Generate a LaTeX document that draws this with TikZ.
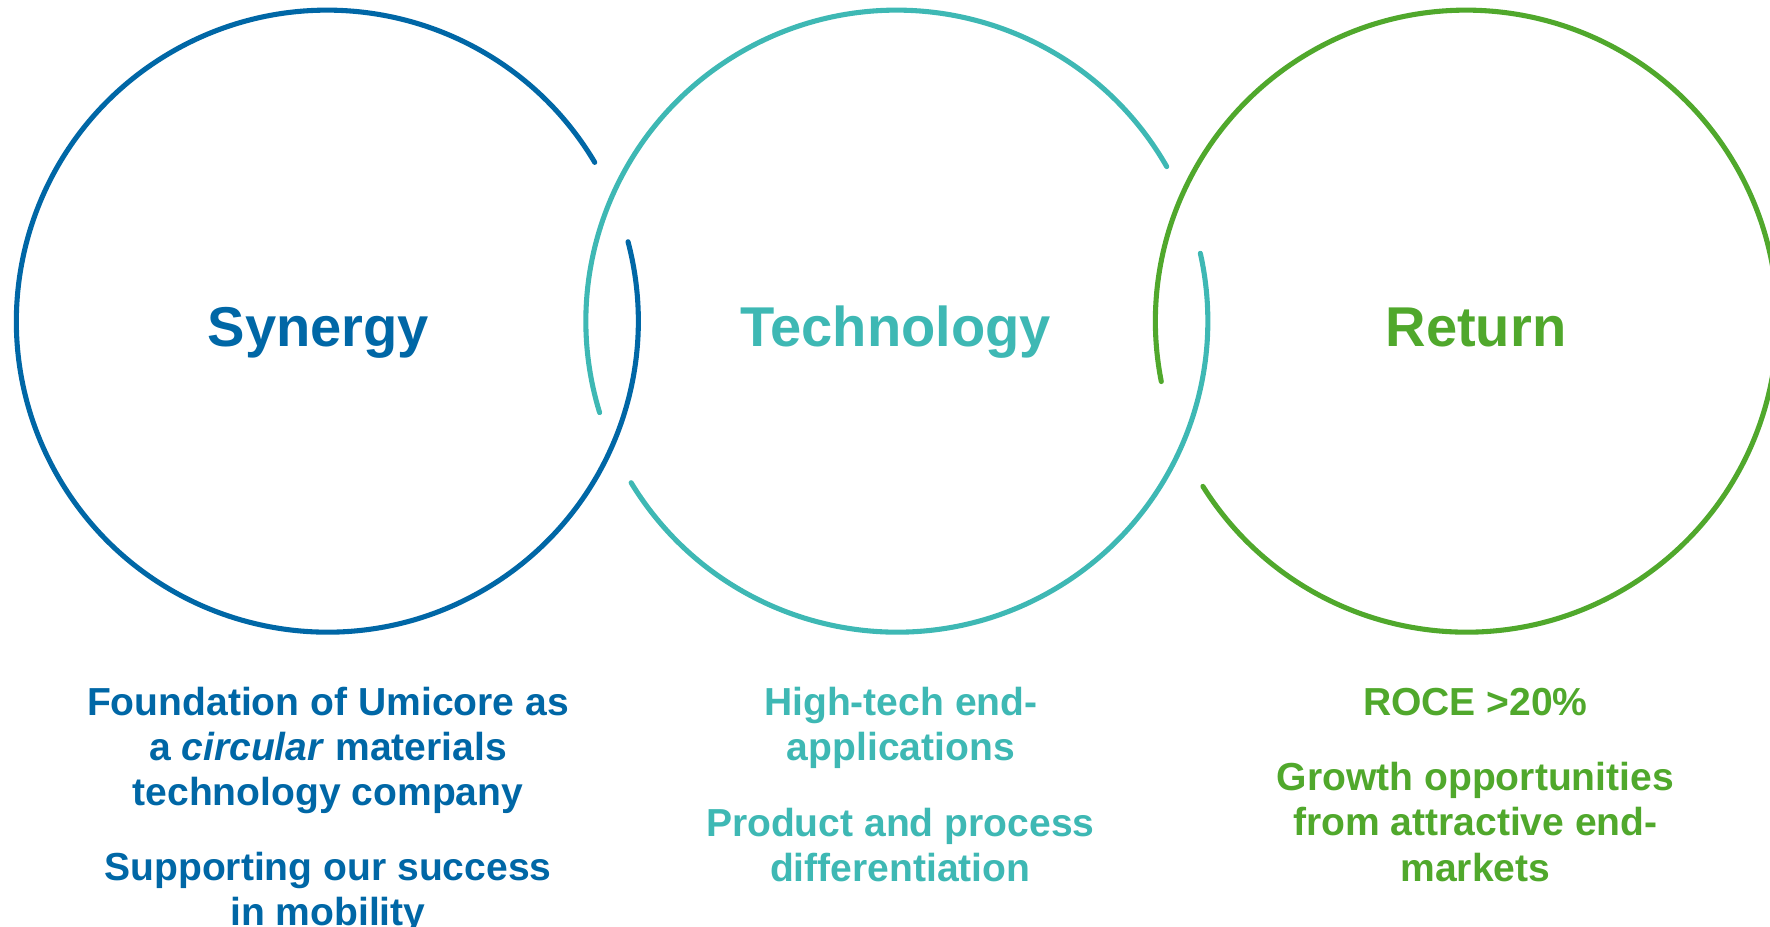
\documentclass[tikz,border=0pt]{standalone}
\usepackage{fontspec}
\setmainfont{Liberation Sans}
\usepackage{tikz}
\usetikzlibrary{arrows,backgrounds}
\definecolor{umiblue}{RGB}{0,103,166}
\definecolor{umiteal}{RGB}{62,184,180}
\definecolor{umigreen}{RGB}{80,168,44}

\begin{document}
\begin{tikzpicture}[x=1pt,y=1pt,line cap=round,line width=4.5pt,
        title/.style={font=\fontsize{49.7}{60}\selectfont\bfseries,anchor=base},
        blurb/.style={font=\fontsize{34.6}{40}\selectfont\bfseries,align=center,anchor=base}]
         \useasboundingbox (0,0) rectangle (1568,-821.2);
         \coordinate (syn) at (290,-284.5);
         \coordinate (tec) at (794.5,-284.5);
         \coordinate (ret) at (1299,-284.5);
         \draw[umiblue] (syn) ++(30.7:275.5) arc[start angle=30.7,end angle=374.8,radius=275.5];
         \draw[umiteal] (tec) ++(29.8:275.5) arc[start angle=29.8,end angle=197.1,radius=275.5];
         \draw[umiteal] (tec) ++(211.3:275.5) arc[start angle=211.3,end angle=372.6,radius=275.5];
         \draw[umigreen] (ret) ++(212.1:275.5) arc[start angle=212.1,end angle=551.2,radius=275.5];
         \node[title,umiblue] (synlabel) at (282,-307) {Synergy};
         \node[title,umiteal] (teclabel) at (793.5,-307) {Technology};
         \node[title,umigreen] (retlabel) at (1307.5,-307) {Return};
         \node[blurb,umiblue] (synfound) at (290.5,-714) {Foundation of Umicore as\\a \textit{circular} materials\\technology company};
         \node[blurb,umiblue] (synmob) at (290.5,-820) {Supporting our success\\in mobility};
         \node[blurb,umiteal] (tecapp) at (798,-674) {High-tech end-\\applications};
         \node[blurb,umiteal] (tecdiff) at (797.5,-781) {Product and process\\differentiation};
         \node[blurb,umigreen] (retroce) at (1307,-634) {ROCE >20\%};
         \node[blurb,umigreen] (retgrow) at (1307,-780.5) {Growth opportunities\\from attractive end-\\markets};
\end{tikzpicture}
\end{document}
